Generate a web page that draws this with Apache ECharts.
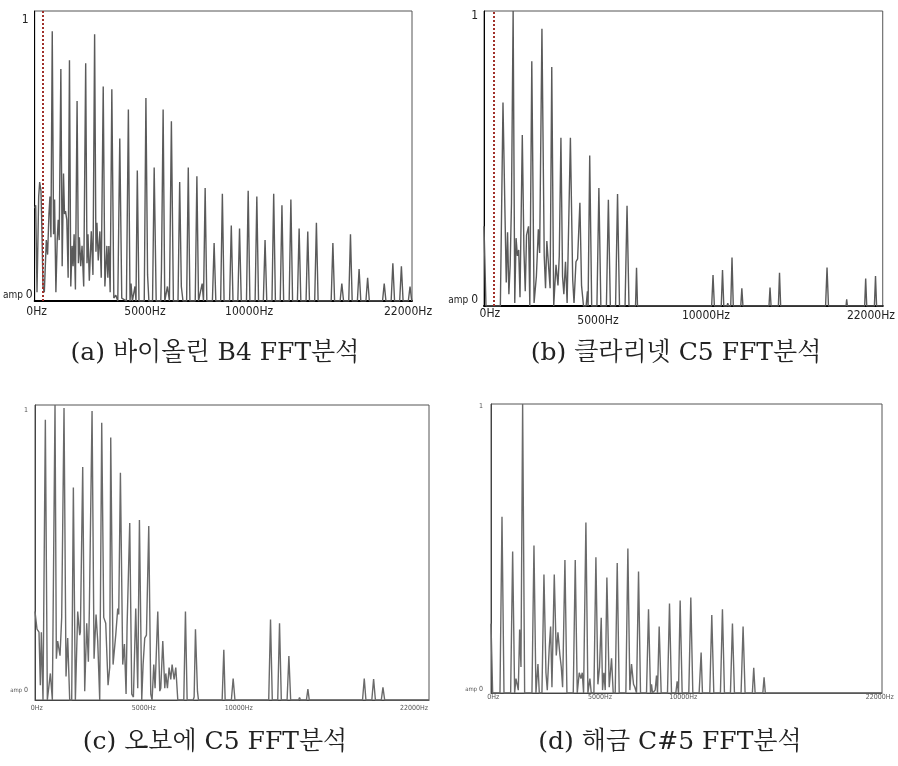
<!DOCTYPE html>
<html><head><meta charset="utf-8">
<script src="https://cdn.jsdelivr.net/npm/echarts@6/dist/echarts.min.js"></script>
<style>html,body{margin:0;padding:0;background:#fff}#c{width:898px;height:766px}</style>
</head><body><div id="c"></div>
<script>
// Frequency axis (Hz) and amplitude (0..1)
const freqMax = 22050;
const xTickLabels = ['0Hz', '5000Hz', '10000Hz', '22000Hz'];
// positions (Hz along the drawn axis) where the original software printed its tick labels
const xTickPosA = [116, 6441, 12534, 21818];
const xTickPosB = [326, 6300, 12274, 21398];
const xTickPosC = [95, 6088, 11409, 21210];
const xTickPosD = [130, 6142, 10837, 21920];
const yTickValues = [0, 1];

const captions = ['(a) 바이올린 B4 FFT분석', '(b) 클라리넷 C5 FFT분석', '(c) 오보에 C5 FFT분석', '(d) 해금 C#5 FFT분석'];
const fundamentalA = 494;  // B4
const fundamentalB = 523;  // C5

// traced spectrum vertices [Hz, amplitude]
const specA = [[0,0.32],[58,0.33],[135,0.03],[232,0.36],[290,0.41],[367,0.38],[426,0.23],[484,0.05],[561,0.03],[677,0.21],[754,0.16],[832,0.30],[890,0.36],[948,0.22],[1025,0.93],[1102,0.23],[1161,0.35],[1238,0.03],[1315,0.21],[1373,0.28],[1431,0.21],[1528,0.80],[1605,0.12],[1683,0.44],[1741,0.30],[1799,0.31],[1876,0.28],[1954,0.08],[2031,0.83],[2108,0.05],[2186,0.19],[2244,0.12],[2302,0.23],[2379,0.04],[2476,0.69],[2553,0.13],[2611,0.22],[2689,0.12],[2766,0.19],[2863,0.05],[2979,0.82],[3056,0.13],[3114,0.23],[3191,0.07],[3307,0.24],[3404,0.09],[3501,0.92],[3578,0.17],[3636,0.27],[3714,0.14],[3810,0.24],[3888,0.08],[4004,0.74],[4101,0.05],[4217,0.19],[4275,0.08],[4333,0.19],[4410,0.03],[4507,0.73],[4623,0.01],[4739,0.02],[4855,0],[4971,0.56],[5087,0.01],[5358,0],[5474,0.66],[5571,0],[5629,0.06],[5706,0],[5861,0.05],[5919,0],[5996,0.45],[6093,0],[6402,0],[6499,0.70],[6596,0.09],[6673,0],[6886,0],[6982,0.46],[7099,0],[7369,0],[7408,0.11],[7505,0.66],[7601,0],[7756,0.05],[7872,0],[7988,0.62],[8104,0],[8375,0],[8472,0.41],[8569,0.05],[8665,0],[8878,0],[8975,0.46],[9071,0],[9381,0],[9478,0.43],[9574,0],[9787,0.06],[9864,0],[9961,0.39],[10058,0],[10385,0],[10485,0.20],[10585,0],[10867,0],[10967,0.37],[11067,0],[11389,0],[11489,0.26],[11589,0],[11871,0],[11971,0.25],[12071,0],[12376,0],[12476,0.38],[12576,0],[12881,0],[12981,0.36],[13081,0],[13362,0],[13462,0.21],[13562,0],[13867,0],[13967,0.37],[14067,0],[14349,0],[14449,0.33],[14549,0],[14871,0],[14971,0.35],[15071,0],[15353,0],[15453,0.25],[15553,0],[15858,0],[15958,0.24],[16058,0],[16363,0],[16463,0.27],[16563,0],[17326,0],[17426,0.20],[17526,0],[17849,0],[17949,0.06],[18049,0],[18354,0],[18454,0.23],[18554,0],[18858,0],[18958,0.11],[19058,0],[19357,0],[19457,0.08],[19557,0],[20327,0],[20427,0.06],[20527,0],[20831,0],[20931,0.13],[21031,0],[21330,0],[21430,0.12],[21530,0],[21835,0],[21935,0.05],[22035,0],[22050,0]];

const specB = [[0,0.27],[109,0],[905,0],[1050,0.69],[1158,0.32],[1231,0.08],[1303,0.25],[1376,0.04],[1448,0.14],[1520,0.35],[1611,1.0],[1701,0.01],[1774,0.23],[1846,0.17],[1919,0.19],[1991,0.03],[2118,0.58],[2208,0.19],[2281,0.05],[2353,0.24],[2462,0.27],[2534,0],[2643,0.83],[2769,0.01],[2896,0.10],[3005,0.26],[3077,0.18],[3204,0.94],[3330,0.17],[3403,0.06],[3475,0.22],[3584,0.22],[3656,0.06],[3747,0.81],[3855,0],[3982,0.14],[4091,0.07],[4163,0.17],[4254,0.57],[4344,0.10],[4416,0.04],[4507,0.15],[4597,0.01],[4778,0.57],[4905,0.09],[4978,0.01],[5086,0.15],[5177,0.16],[5303,0.35],[5394,0.07],[5502,0],[5647,0],[5720,0.05],[5756,0],[5846,0.51],[5955,0],[6245,0],[6353,0.40],[6462,0],[6769,0],[6878,0.36],[6987,0],[7276,0],[7385,0.38],[7493,0],[7801,0],[7910,0.34],[8018,0],[8380,0],[8435,0.13],[8489,0],[12590,0],[12665,0.105],[12740,0],[13120,0],[13190,0.122],[13260,0],[13440,0],[13480,0.01],[13520,0],[13645,0],[13715,0.164],[13785,0],[14200,0],[14259,0.06],[14320,0],[15760,0],[15817,0.063],[15875,0],[16280,0],[16342,0.113],[16405,0],[18890,0],[18970,0.130],[19050,0],[20020,0],[20057,0.023],[20095,0],[21050,0],[21107,0.093],[21165,0],[21590,0],[21651,0.102],[21710,0],[22050,0]];

const specC = [[0,0.30],[112,0.24],[224,0.23],[299,0.05],[355,0.23],[448,0],[579,0.95],[691,0],[765,0],[859,0.09],[971,0],[1120,1.0],[1195,0.14],[1270,0.20],[1363,0.20],[1400,0.15],[1494,0.28],[1624,0.99],[1736,0.08],[1830,0.21],[1942,0],[2054,0],[2147,0.72],[2259,0],[2390,0.30],[2502,0.22],[2539,0.23],[2670,0.79],[2782,0.03],[2894,0.26],[2987,0.13],[3043,0.31],[3193,0.98],[3305,0.14],[3417,0.29],[3510,0.20],[3622,0],[3734,0.94],[3846,0.28],[3958,0.26],[4089,0.05],[4182,0.11],[4238,0.89],[4369,0.12],[4518,0.22],[4630,0.31],[4686,0.29],[4780,0.77],[4910,0.12],[5004,0.19],[5097,0.02],[5153,0.25],[5302,0.60],[5414,0.02],[5508,0.01],[5638,0.31],[5750,0.04],[5844,0.61],[5974,0],[6049,0.12],[6142,0.21],[6236,0.22],[6366,0.59],[6478,0.02],[6553,0],[6647,0.12],[6721,0.04],[6871,0.30],[6983,0.03],[7039,0.04],[7151,0.20],[7263,0.04],[7319,0.09],[7412,0.04],[7505,0.11],[7599,0.07],[7673,0.12],[7785,0.07],[7879,0.11],[7991,0],[8327,0],[8420,0.30],[8514,0],[8850,0],[8906,0.01],[8980,0.24],[9092,0.03],[9148,0],[10474,0],[10567,0.17],[10642,0],[10990,0],[11090,0.073],[11190,0],[13080,0],[13181,0.273],[13280,0],[13585,0],[13685,0.26],[13785,0],[14108,0],[14208,0.149],[14308,0],[14750,0],[14805,0.008],[14860,0],[15190,0],[15272,0.037],[15350,0],[18330,0],[18427,0.073],[18520,0],[18850,0],[18950,0.071],[19050,0],[19380,0],[19473,0.043],[19570,0],[22050,0]];

const specD = [[0,0.24],[94,0],[507,0],[620,0.61],[732,0],[1108,0],[1221,0.49],[1333,0],[1409,0.05],[1484,0.05],[1540,0.01],[1615,0.22],[1690,0.09],[1784,1.0],[1897,0],[2310,0],[2423,0.51],[2535,0],[2648,0.10],[2723,0],[2873,0],[2986,0.41],[3099,0.07],[3174,0.01],[3287,0.16],[3362,0.23],[3437,0.02],[3568,0.41],[3681,0.13],[3775,0.21],[3887,0.13],[3963,0.09],[4038,0.02],[4169,0.46],[4282,0],[4639,0],[4751,0.46],[4864,0],[4977,0.07],[5071,0.05],[5146,0.07],[5221,0],[5352,0.59],[5465,0],[5578,0.05],[5653,0],[5803,0],[5916,0.47],[6028,0.03],[6122,0.09],[6216,0.26],[6291,0.01],[6366,0.07],[6442,0.01],[6535,0.40],[6667,0.02],[6798,0.12],[6892,0],[7005,0],[7118,0.45],[7230,0],[7606,0],[7719,0.50],[7831,0.01],[7925,0.10],[8038,0.03],[8113,0.02],[8207,0],[8320,0.42],[8432,0],[8770,0],[8883,0.29],[8996,0],[9052,0.03],[9108,0],[9259,0.01],[9334,0.06],[9390,0],[9484,0.23],[9597,0],[9953,0],[10066,0.31],[10179,0],[10423,0],[10498,0.04],[10573,0],[10667,0.32],[10780,0],[11155,0],[11268,0.33],[11381,0],[11737,0],[11850,0.14],[11925,0],[12338,0],[12451,0.27],[12564,0],[12939,0],[13052,0.29],[13165,0],[13503,0],[13616,0.24],[13729,0],[14103,0],[14216,0.23],[14329,0],[14740,0],[14817,0.087],[14895,0],[15330,0],[15400,0.054],[15470,0],[22050,0]];

const panels = [
  {grid:{left:32,top:11,width:380,height:290}, data:specA, ticks:xTickPosA, fund:fundamentalA,
   big:true, lineColor:'#5a5a5a', lineW:1.4, yPad:{t:[18,4,0,0], b:[0,0,12,0]}, yMargin:2, xMargin:5,
   xPad:[0,0,0,0]},
  {grid:{left:484,top:11,width:406,height:295}, data:specB, ticks:xTickPosB, fund:fundamentalB,
   big:true, lineColor:'#5a5a5a', lineW:1.4, yPad:{t:[10,0,0,0], b:[0,0,12,0]}, yMargin:6, xMargin:2,
   xPad:[0,7,2,2]},
  {grid:{left:35,top:405,width:394,height:295}, data:specC, ticks:xTickPosC, fund:null,
   big:false, lineColor:'#6a6a6a', lineW:1.4, yPad:{t:[10,0,0,0], b:[0,0,20,0]}, yMargin:7, xMargin:5,
   xPad:[0,0,0,0]},
  {grid:{left:491,top:404,width:391,height:289}, data:specD, ticks:xTickPosD, fund:null,
   big:false, lineColor:'#6a6a6a', lineW:1.4, yPad:{t:[4,0,0,0], b:[0,0,8,0]}, yMargin:8, xMargin:1,
   xPad:[0,0,0,0]}
];

const labelFont = "'Liberation Sans Narrow','DejaVu Sans Condensed','Liberation Sans',sans-serif";
const grids = [], xAxes = [], yAxes = [], series = [];
panels.forEach((p, i) => {
  grids.push(Object.assign({show:true, borderColor:'#555', borderWidth:1, backgroundColor:'#fff'}, p.grid));
  const fs = p.big ? 12 : 7;
  const col = p.big ? '#222' : '#555';
  const xRich = {};
  xTickLabels.forEach((t, k) => { xRich['l' + k] = {fontSize:fs, fontFamily:labelFont, color:col, padding:[p.xPad[k],0,0,0]}; });
  xAxes.push({
    gridIndex:i, type:'value', min:0, max:freqMax,
    axisLine:{show:true, onZero:false, lineStyle:{color: p.big ? '#000' : '#444', width: p.big ? 2 : 1}},
    axisTick:{show:false}, splitLine:{show:false},
    axisLabel:{customValues:p.ticks, margin:p.xMargin, fontSize:fs, fontFamily:labelFont, color:col,
      formatter:(v) => { const k = p.ticks.indexOf(v); return k < 0 ? '' : '{l' + k + '|' + xTickLabels[k] + '}'; },
      rich:xRich, hideOverlap:false}
  });
  yAxes.push({
    gridIndex:i, type:'value', min:0, max:1,
    axisLine:{show:true, lineStyle:{color: p.big ? '#000' : '#444', width:1}},
    axisTick:{show:false}, splitLine:{show:false},
    axisLabel:{customValues:yTickValues, margin:p.yMargin, fontSize:fs, fontFamily:labelFont, color:col,
      formatter:(v) => v === 1 ? '{t|1}' : '{a|amp }{z|0}',
      rich:{
        t:{fontSize:fs, fontFamily:labelFont, color:col, padding:p.yPad.t},
        a:{fontSize:p.big ? 10 : 6, fontFamily:labelFont, color:col, padding:p.yPad.b},
        z:{fontSize:fs, fontFamily:labelFont, color:col, padding:p.yPad.b}
      }}
  });
  const s = {
    type:'line', xAxisIndex:i, yAxisIndex:i, data:p.data, showSymbol:false, symbol:'none',
    lineStyle:{color:p.lineColor, width:p.lineW}, animation:false, clip:true, z:3
  };
  if (p.fund !== null) {
    s.markLine = {silent:true, symbol:'none', animation:false, label:{show:false},
      lineStyle:{color:'#a0302a', type:'dotted', width:2}, data:[{xAxis:p.fund}]};
  }
  series.push(s);
});

const capFont = "'DejaVu Serif','Noto Serif CJK KR','Noto Sans CJK KR',serif";
const capPos = [[215,341],[676,341],[215,730],[670,730]];
const titles = captions.map((t, i) => ({
  text:t, left:capPos[i][0], top:capPos[i][1], textAlign:'center', padding:0,
  textStyle:{fontFamily:capFont, fontSize:25, fontWeight:'normal', color:'#222'}
}));

const chart = echarts.init(document.getElementById('c'), null, {renderer:'canvas'});
chart.setOption({animation:false, backgroundColor:'#fff', title:titles, grid:grids, xAxis:xAxes, yAxis:yAxes, series:series});
</script>
</body></html>
